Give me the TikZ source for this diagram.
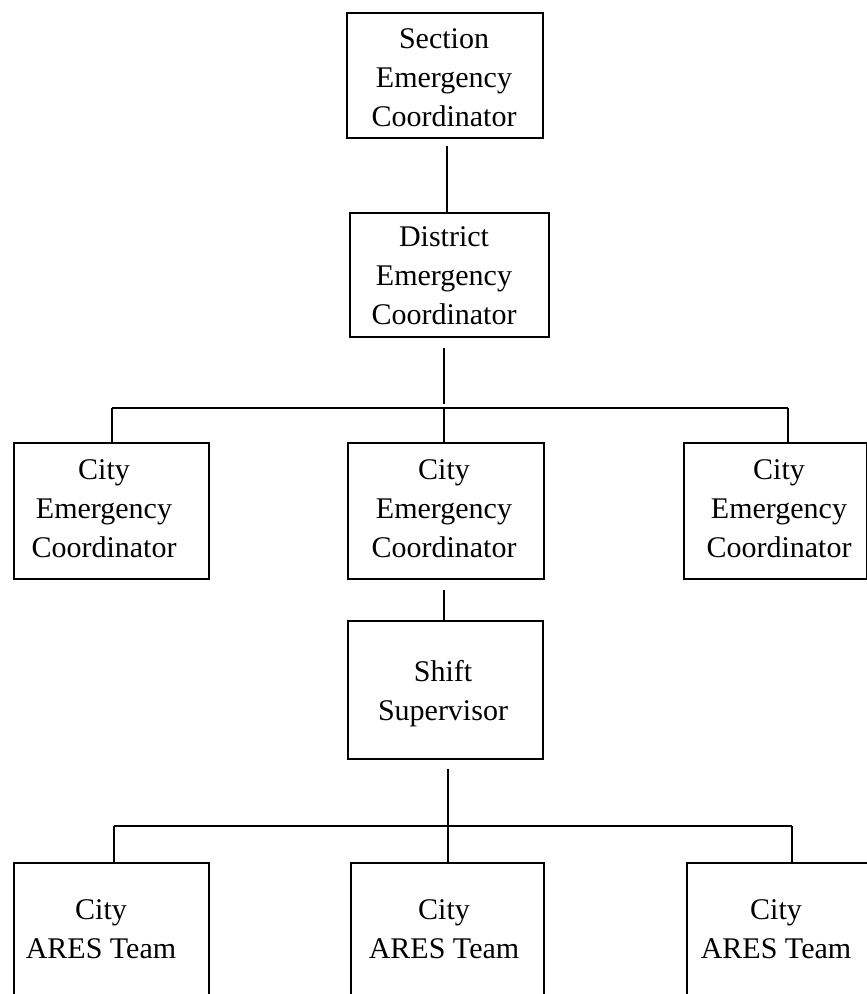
\documentclass[tikz,border=0pt]{standalone}
\usepackage{fontspec}
\setmainfont{Liberation Serif}
\begin{document}
\begin{tikzpicture}[x=1pt,y=-1pt,
  box/.style={draw, line width=1.6pt, inner sep=0pt, anchor=north west},
  lbl/.style={align=center, font=\fontsize{30}{39}\selectfont, inner sep=0pt},
  conn/.style={line width=1.6pt}]
\useasboundingbox (0,0) rectangle (867,994);
\clip (0,0) rectangle (867,994);
% boxes
\node[box, minimum width=196pt, minimum height=125pt] (sec) at (346,12) {};
\node[box, minimum width=199pt, minimum height=124pt] (dis) at (349,212) {};
\node[box, minimum width=195pt, minimum height=136pt] (c1) at (13,442) {};
\node[box, minimum width=196pt, minimum height=136pt] (c2) at (347,442) {};
\node[box, minimum width=183pt, minimum height=136pt] (c3) at (683,442) {};
\node[box, minimum width=195pt, minimum height=138pt] (sh) at (347,620) {};
\node[box, minimum width=195pt, minimum height=140pt] (a1) at (13,862) {};
\node[box, minimum width=193pt, minimum height=140pt] (a2) at (350,862) {};
\node[box, minimum width=200pt, minimum height=140pt] (a3) at (686,862) {};
% labels
\node[lbl] (tsec) at (444,78) {Section\\Emergency\\Coordinator};
\node[lbl] (tdis) at (444,276) {District\\Emergency\\Coordinator};
\node[lbl] (tc1) at (104,509) {City\\Emergency\\Coordinator};
\node[lbl] (tc2) at (444,509) {City\\Emergency\\Coordinator};
\node[lbl] (tc3) at (779,509) {City\\Emergency\\Coordinator};
\node[lbl] (tsh) at (443,694) {Shift\\Supervisor};
\node[lbl] (ta1) at (101,929) {City\\ARES Team};
\node[lbl] (ta2) at (444,929) {City\\ARES Team};
\node[lbl] (ta3) at (776,929) {City\\ARES Team};
% bus coordinates
\coordinate (bus1) at (444,408);
\coordinate (bus2) at (448,826);
% connectors
\draw[conn] ([yshift=-7pt]sec.south -| 447,0) -- (dis.north -| 447,0);
\draw[conn] ([yshift=-10pt]dis.south -| bus1) -- ([yshift=4pt]bus1);
\draw[conn] (bus1 -| 112,0) -- (bus1 -| 788,0);
\draw[conn] (bus1 -| 112,0) -- (c1.north -| 112,0);
\draw[conn] (bus1) -- (c2.north -| bus1);
\draw[conn] (bus1 -| 788,0) -- (c3.north -| 788,0);
\draw[conn] ([yshift=-10pt]c2.south -| bus1) -- (sh.north -| bus1);
\draw[conn] ([yshift=-9pt]sh.south -| bus2) -- (a2.north -| bus2);
\draw[conn] (bus2 -| 114,0) -- (bus2 -| 792,0);
\draw[conn] (bus2 -| 114,0) -- (a1.north -| 114,0);
\draw[conn] (bus2 -| 792,0) -- (a3.north -| 792,0);
\end{tikzpicture}
\end{document}
